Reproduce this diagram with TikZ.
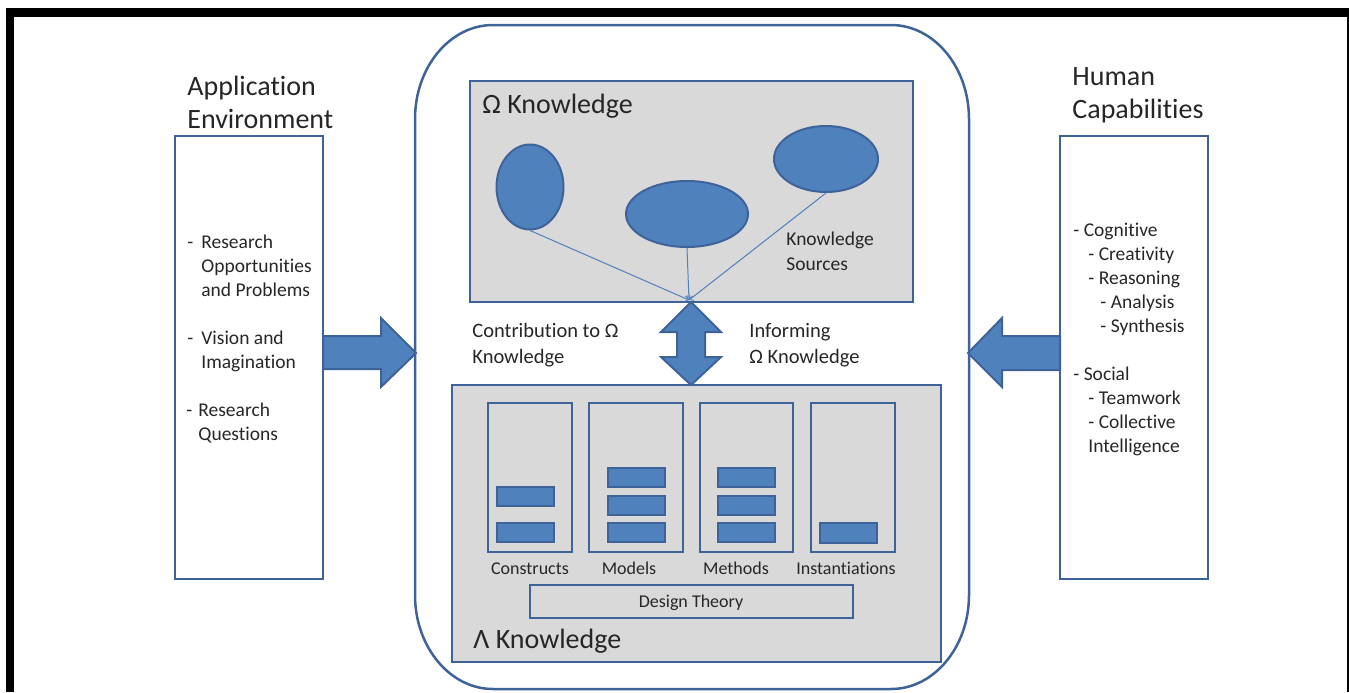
\documentclass[tikz,border=0pt]{standalone}
\usepackage{fontspec}
\setmainfont{Carlito}[Ligatures=NoCommon]
\usetikzlibrary{fit,shapes.geometric}

\definecolor{boxblue}{HTML}{4F81BD}
\definecolor{lineblue}{HTML}{3E6399}
\definecolor{panelgray}{HTML}{D9D9D9}

\begin{document}
\begin{tikzpicture}[%
      x=0.5pt, y=-0.5pt,
      every node/.style={inner sep=0pt, text=black!85},
      box/.style={draw=lineblue, line width=1.2pt},
      panel/.style={box, fill=panelgray},
      slot/.style={draw=lineblue, line width=1pt},
      bar/.style={draw=lineblue, fill=boxblue, line width=1pt},
      source/.style={ellipse, draw=lineblue, fill=boxblue, line width=1pt},
      feed/.style={boxblue, line width=0.5pt, ->},
      bigarrow/.style={draw=lineblue, fill=boxblue, line width=1pt, line join=miter},
      heading/.style={font=\fontsize{14}{16.5}\selectfont, align=left, anchor=base west},
      listtext/.style={font=\fontsize{9.75}{12}\selectfont, align=left, anchor=base west},
      midtext/.style={font=\fontsize{10.25}{13}\selectfont, align=left, anchor=base west},
      colname/.style={font=\fontsize{9}{11}\selectfont, anchor=base},
      ]
      \useasboundingbox (0,0) rectangle (1349,692);
      \fill [black] (6,8) rectangle (1349,17);
      \fill [black] (6,8) rectangle (14,692);
      \fill [black] (1347,8) rectangle (1349,692);

      \draw [lineblue, line width=1.25pt] (493,25) -- (891,25)
            .. controls (934,25) and (969,67) .. (969,119) -- (969,595)
            .. controls (969,647) and (934,689) .. (891,689) -- (493,689)
            .. controls (450,689) and (415,647) .. (415,595) -- (415,119)
            .. controls (415,67) and (450,25) .. (493,25) -- cycle;

      \node [box, fit={(175,136) (323,579)}] (appenv) {};
      \node [box, fit={(1060,136) (1208,579)}] (humcap) {};
      \node [panel, fit={(470,81) (913,302)}] (omega) {};
      \node [panel, fit={(452,385) (941,662)}] (lambda) {};

      % multi-line nodes sit on the baseline of their last line
      \node [heading] (apptitle) at (187,128) {Application\\Environment};
      \node [heading] (humtitle) at (1072,118) {Human\\Capabilities};
      \node [heading] (omegatitle) at (482,113) {Ω Knowledge};
      \node [heading] (lambdatitle) at (473,648) {Λ Knowledge};

      \node [listtext] (applist) at (187,440) {%
            \makebox[7pt][l]{-}Research\\
            \hspace*{7pt}Opportunities\\
            \hspace*{7pt}and Problems\\[12pt]
            \makebox[7pt][l]{-}Vision and\\
            \hspace*{7pt}Imagination\\[12pt]
            \hspace*{-0.5pt}\makebox[6pt][l]{-}Research\\
            \hspace*{5.5pt}Questions};
      \node [listtext] (humlist) at (1073,452) {%
            - Cognitive\\
            \hspace*{7.5pt}- Creativity\\
            \hspace*{7.5pt}- Reasoning\\
            \hspace*{13.5pt}- Analysis\\
            \hspace*{13.5pt}- Synthesis\\[12pt]
            - Social\\
            \hspace*{7.5pt}- Teamwork\\
            \hspace*{7.5pt}- Collective\\
            \hspace*{7.5pt}Intelligence};

      \node [source, minimum width=33.5pt, minimum height=42.5pt] (src1) at (530,187) {};
      \node [source, minimum width=61pt, minimum height=33pt] (src2) at (687,214) {};
      \node [source, minimum width=52pt, minimum height=33pt] (src3) at (826,159) {};
      \coordinate (meet) at (689,300);
      \draw [feed] (src1.south) -- (meet);
      \draw [feed] (src2.south) -- (meet);
      \draw [feed] (src3.south) -- (meet);
      \node [midtext, font=\fontsize{9.75}{12.5}\selectfont] (srclabel) at (786,270) {Knowledge\\Sources};

      \filldraw [bigarrow] (323,336) -- (381,336) -- (381,318) -- (416,353)
            -- (381,387) -- (381,369) -- (323,369) -- cycle;
      \filldraw [bigarrow] (1060,336) -- (1002,336) -- (1002,318) -- (968,353)
            -- (1002,387) -- (1002,370) -- (1060,370) -- cycle;
      \filldraw [bigarrow] (691,302) -- (721,332) -- (705,332) -- (705,357)
            -- (721,357) -- (691,385) -- (661,357) -- (677,357)
            -- (677,332) -- (661,332) -- cycle;

      \node [midtext] (contrib) at (472,363) {Contribution to Ω\\Knowledge};
      \node [midtext] (inform) at (749,363) {Informing\\Ω Knowledge};

      \node [slot, fit={(488,403) (572,552)}] (constructs) {};
      \node [slot, fit={(589,403) (683,552)}] (models) {};
      \node [slot, fit={(700,403) (793,552)}] (methods) {};
      \node [slot, fit={(811,403) (895,552)}] (instant) {};

      \foreach \y in {487,523}
            \filldraw [bar] (497,\y) rectangle (554,\y+19);
      \foreach \x in {608,718}
            \foreach \y in {468,496,523}
                  \filldraw [bar] (\x,\y) rectangle (\x+57,\y+19);
      \filldraw [bar] (820,523) rectangle (877,543);

      \node [colname] (conslabel) at (530,574) {Constructs};
      \node [colname] (modlabel) at (629,574) {Models};
      \node [colname] (methlabel) at (736,574) {Methods};
      \node [colname] (instlabel) at (846,574) {Instantiations};

      \node [slot, fit={(530,585) (853,618)}] (dtheory) {};
      \node [colname] (dtlabel) at (691,607) {Design Theory};
\end{tikzpicture}
\end{document}
